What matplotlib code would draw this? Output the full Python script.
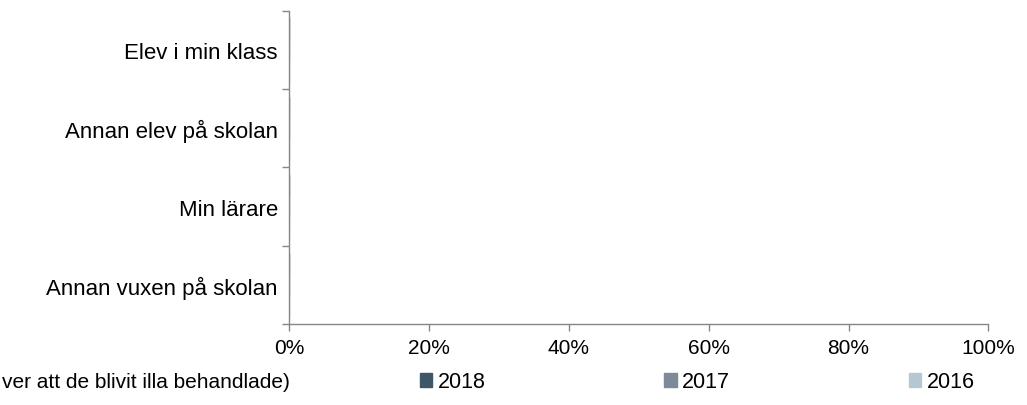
import numpy as np
import matplotlib.pyplot as plt
from matplotlib.ticker import FixedLocator, PercentFormatter

plt.rcParams['font.family'] = ['Liberation Sans', 'DejaVu Sans']

categories = ["Elev i min klass", "Annan elev på skolan", "Min lärare", "Annan vuxen på skolan"]
series_names = ["2018", "2017", "2016"]
values_2018 = [0, 0, 0, 0]
values_2017 = [0, 0, 0, 0]
values_2016 = [0, 0, 0, 0]
colors = ["#3E5667", "#7C8A99", "#B4C7D2"]
legend_title = "ver att de blivit illa behandlade)"

fig = plt.figure(figsize=(10.27, 4.06), dpi=100)
ax = fig.add_axes([0.2814, 0.1995, 0.681, 0.771])

n = len(categories)
y = np.arange(n)[::-1].astype(float)
h = 0.27
series = [values_2018, values_2017, values_2016]
bars = []
for i, (vals, name, c) in enumerate(zip(series, series_names, colors)):
    b = ax.barh(y + (1 - i) * h, vals, height=h, color=c, edgecolor=c,
                linewidth=1.0, label=name)
    bars.append(b)

ax.set_xlim(0, 1)
ax.set_ylim(-0.5, n - 0.5)
ax.xaxis.set_major_locator(FixedLocator([0, 0.2, 0.4, 0.6, 0.8, 1.0]))
ax.xaxis.set_major_formatter(PercentFormatter(1.0, decimals=0))
ax.set_yticks(y)
ax.set_yticklabels(categories)
ax.yaxis.set_minor_locator(FixedLocator(np.arange(-0.5, n, 1.0)))

spine_c = "#868686"
for s in ["top", "right"]:
    ax.spines[s].set_visible(False)
for s in ["left", "bottom"]:
    ax.spines[s].set_color(spine_c)
    ax.spines[s].set_linewidth(1.0)

ax.tick_params(axis='y', which='major', length=0, pad=8, labelsize=16)
ax.tick_params(axis='y', which='minor', length=5, color=spine_c, width=1.0)
ax.tick_params(axis='x', which='major', length=5, color=spine_c, width=1.0,
               pad=5, labelsize=15)

fig.text(290 / 1027, 1 - 383 / 406, legend_title, ha='right', va='center',
         fontsize=15)
fig.legend(handles=bars, labels=series_names, loc='center left',
           bbox_to_anchor=(420 / 1027, 1 - 383 / 406), ncol=3, frameon=False,
           fontsize=15.5, handlelength=0.58, handleheight=0.58,
           handletextpad=0.25, columnspacing=8.3, borderpad=0, borderaxespad=0)

fig.savefig("out.png", dpi=100)
